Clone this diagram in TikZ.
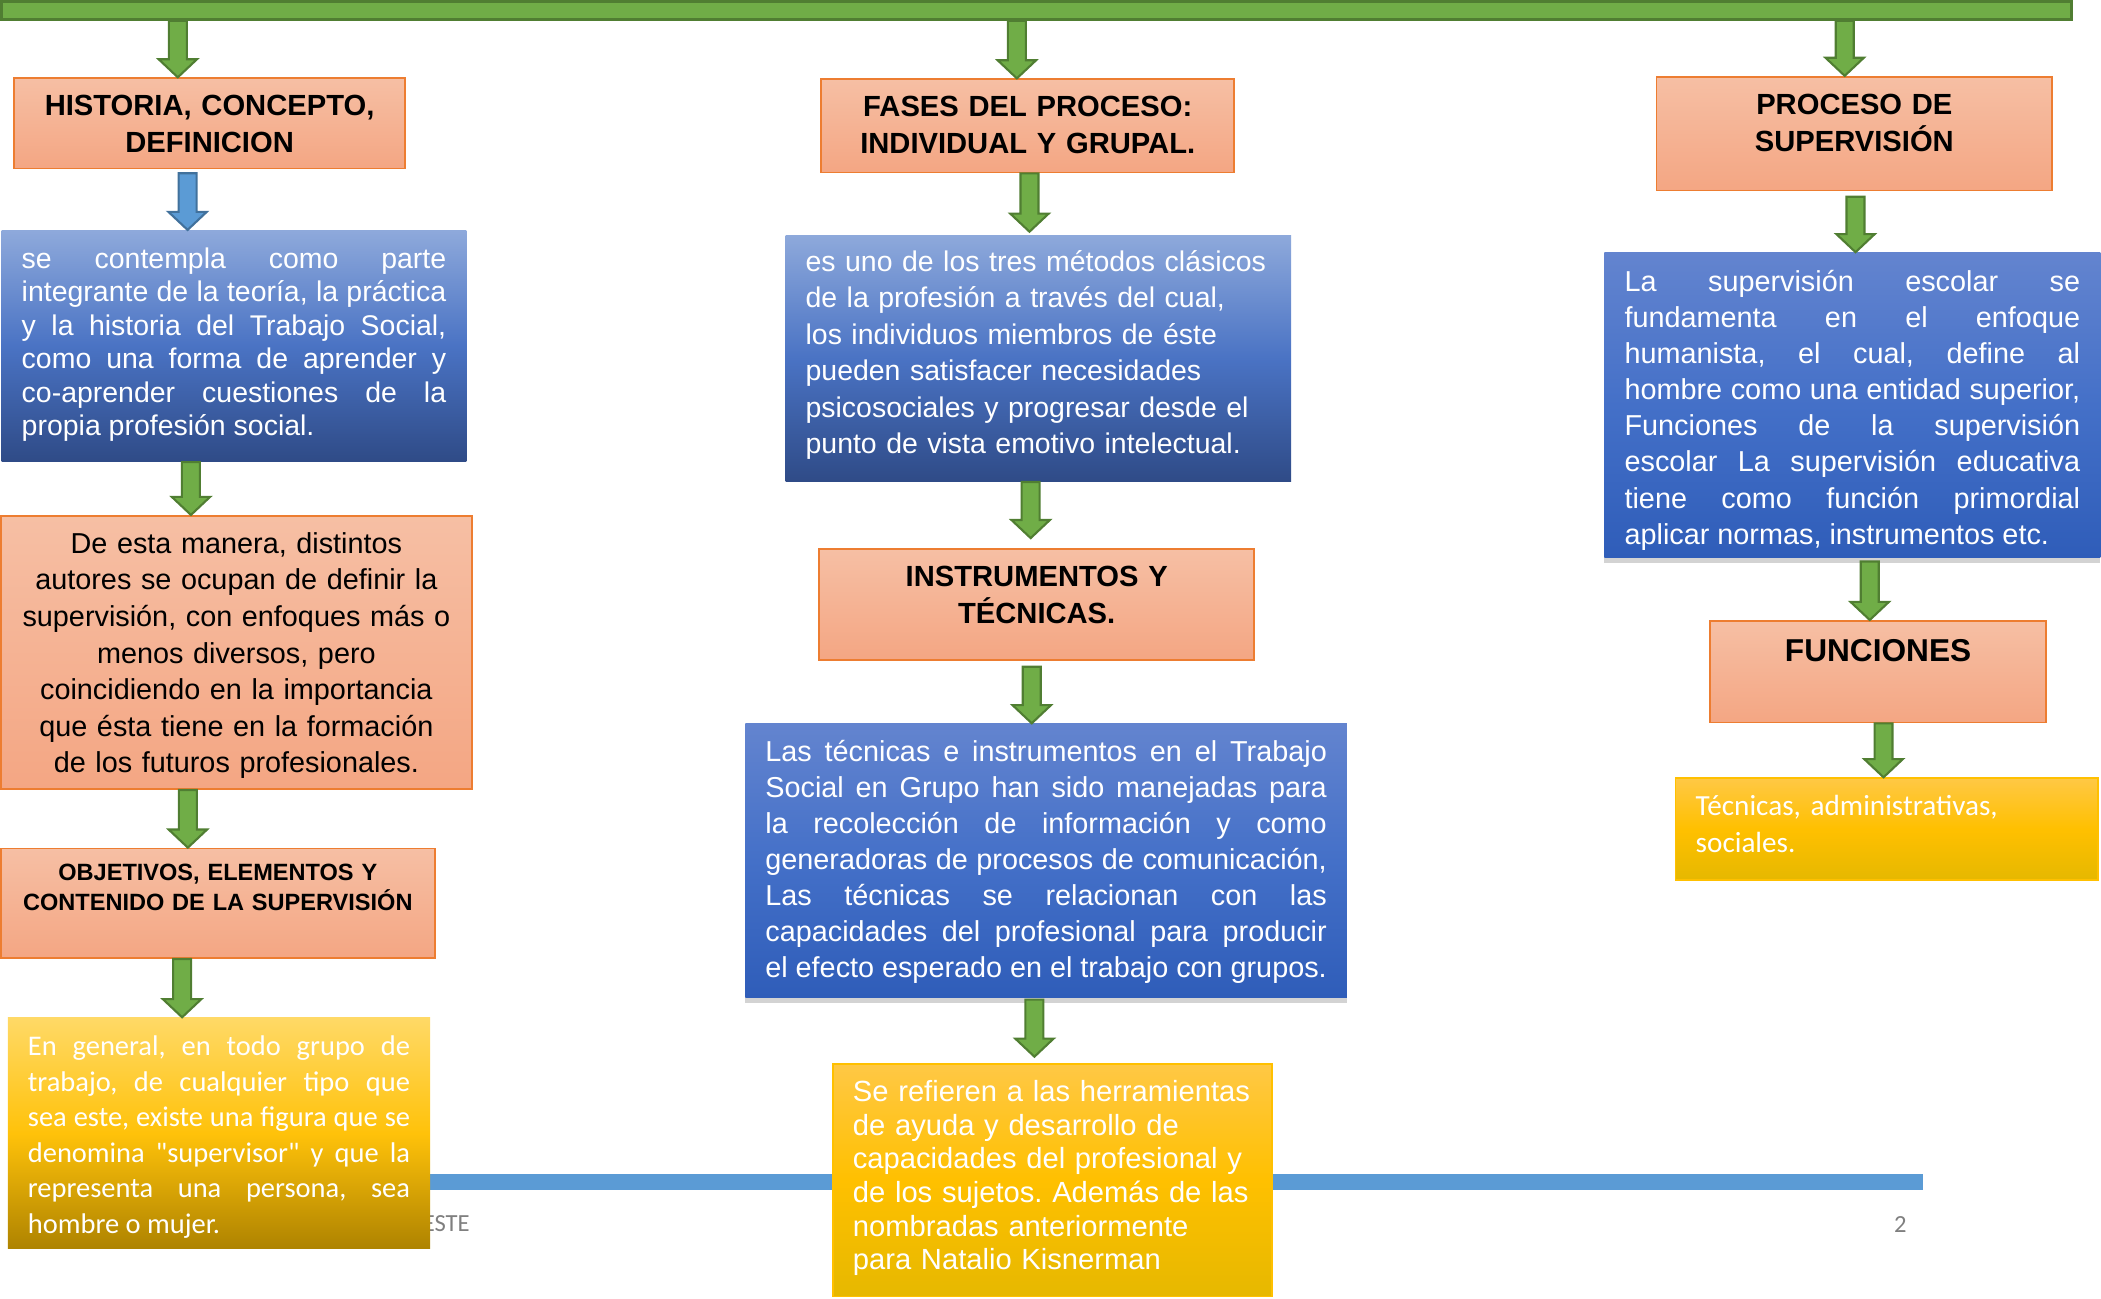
\documentclass[tikz,border=0pt]{standalone}
\usepackage{fontspec}
\setmainfont{Liberation Sans}
\newfontfamily\calibri{Carlito}
\usetikzlibrary{calc,shadows}

\definecolor{verde}{HTML}{70AD47}
\definecolor{verdeborde}{HTML}{507E32}
\definecolor{azulflecha}{HTML}{5B9BD5}
\definecolor{azulflechaborde}{HTML}{41719C}
\definecolor{azulpie}{HTML}{5B9BD5}
\definecolor{gris}{HTML}{7F7F7F}
\definecolor{naranja1}{HTML}{F6BFA4}
\definecolor{naranja2}{HTML}{F4A683}
\definecolor{naranjaborde}{HTML}{ED7D31}
\definecolor{azula}{HTML}{8EA9DB}
\definecolor{azulb}{HTML}{4A73C4}
\definecolor{azulc}{HTML}{2F4B87}
\definecolor{azulma}{HTML}{6384CF}
\definecolor{azulmb}{HTML}{4470C8}
\definecolor{azulmc}{HTML}{2F5DB9}
\definecolor{amara}{HTML}{FFD966}
\definecolor{amarb}{HTML}{FFC20A}
\definecolor{amarc}{HTML}{AE8300}
\definecolor{amarda}{HTML}{FFC845}
\definecolor{amardb}{HTML}{FFC000}
\definecolor{amardc}{HTML}{E6B800}

\newcommand{\ud}{0.134mm}
\newcommand{\anchoc}{0.9mm}
\newcommand{\anchop}{1.92mm}
\newcommand{\largop}{1.81mm}

\hyphenpenalty=10000
\exhyphenpenalty=10000
\tolerance=9999
\hbadness=10000
\frenchspacing

\tikzset{
  caja/.code n args={3}{%
    \pgfmathsetlengthmacro\cajaw{(#1-30)*\ud}%
    \pgfmathsetlengthmacro\cajah{#3*\ud}%
    \pgfmathsetlengthmacro\cajad{(#2-#3)*\ud}%
    \pgfmathsetlengthmacro\cajax{15*\ud}%
    \edef\cajatmp{\noexpand\tikzset{anchor=north west, inner ysep=0pt,
      inner xsep=\cajax, text width=\cajaw, text height=\cajah, text depth=\cajad}}%
    \cajatmp},
  naranja/.style={draw=naranjaborde, line width=0.5pt, top color=naranja1, bottom color=naranja2},
  titulo/.style={naranja, align=center, font=\bfseries\fontsize{8.3}{10.4}\selectfont},
  azulclaro/.style={top color=azula, bottom color=azulc, middle color=azulb, text=white},
  azulmedio/.style={top color=azulma, bottom color=azulmc, middle color=azulmb, text=white,
    drop shadow={opacity=0.35, shadow xshift=0pt, shadow yshift=-0.6mm}},
  amarillo/.style={top color=amara, bottom color=amarc, middle color=amarb, text=white},
  amarillodos/.style={draw=amardb, line width=0.4pt, top color=amarda, bottom color=amardc,
    middle color=amardb, text=white},
  barra/.style={anchor=north west, fill=verde, draw=verdeborde, line width=0.8pt,
    minimum width=207mm, minimum height=1.8mm, inner sep=0pt},
  pie/.style={text=gris, font=\calibri\fontsize{7}{8}\selectfont, inner sep=0pt},
  flechaverde/.style={fill=verde, draw=verdeborde, line width=0.6pt},
  flechaazul/.style={fill=azulflecha, draw=azulflechaborde, line width=0.6pt}
}

% flecha de bloque vertical: x, desde, hasta
\newcommand{\flecha}[4][verde]{%
  \draw[flecha#1] let \p1=(#2,0), \p2=(#3), \p3=(#4) in
    (\x1-\anchoc,\y2) -- (\x1+\anchoc,\y2) -- (\x1+\anchoc,\y3+\largop)
    -- (\x1+\anchop,\y3+\largop) -- (\x1,\y3) -- (\x1-\anchop,\y3+\largop)
    -- (\x1-\anchoc,\y3+\largop) -- cycle;}

\begin{document}
\begin{tikzpicture}[x=\ud, y=-\ud]
\useasboundingbox (0,0) rectangle (1568,969);

% pie de pagina
\fill[azulpie] (10,876.2) rectangle (1435.4,888);
\node[pie, anchor=base west] (este) at (315,919) {ESTE};
\node[pie, anchor=base east] (pag) at (1423.4,919.7) {2};

\node[barra] (barra) at (0,0) {};

% columna izquierda
\node[titulo, caja={291.5}{67.4}{28.1}] (hist) at (10,57.7)
  {HISTORIA, CONCEPTO,\\DEFINICION};
\node[azulclaro, align=justify, font=\fontsize{8.1}{9.53}\selectfont,
  caja={346.8}{172.2}{28.1}] (concepto) at (0.7,171.6)
  {se contempla como parte\linebreak integrante de la teoría, la práctica\linebreak
   y la historia del Trabajo Social,\linebreak como una forma de aprender y\linebreak
   co-aprender cuestiones de la\linebreak propia profesión social.};
\node[naranja, align=center, font=\fontsize{8.2}{10.39}\selectfont,
  caja={351.5}{204}{28.1}] (autores) at (0,384.3)
  {De esta manera, distintos\\autores se ocupan de definir la\\supervisión, con enfoques más o\\
   menos diversos, pero\\coincidiendo en la importancia\\que ésta tiene en la formación\\
   de los futuros profesionales.};
\node[titulo, font=\bfseries\fontsize{6.7}{8.7}\selectfont,
  caja={323.8}{81.8}{23.6}] (objetivos) at (0,632.6)
  {OBJETIVOS, ELEMENTOS Y\\CONTENIDO DE LA SUPERVISIÓN};
\node[amarillo, align=justify, font=\calibri\fontsize{8.1}{10.1}\selectfont,
  caja={315.2}{172.4}{28.1}] (grupo) at (5.3,759.2)
  {En general, en todo grupo de\linebreak trabajo, de cualquier tipo que\linebreak
   sea este, existe una figura que se\linebreak denomina "supervisor" y que la\linebreak
   representa una persona, sea\linebreak hombre o mujer.};

% columna central
\node[titulo, caja={308.1}{69.6}{28.1}] (fases) at (612.3,58.5)
  {FASES DEL PROCESO:\\INDIVIDUAL Y GRUPAL.};
\node[azulclaro, align=left, font=\fontsize{8.1}{10.37}\selectfont,
  caja={377.4}{183.8}{27.1}] (metodo) at (585.7,174.9)
  {es uno de los tres métodos clásicos\\de la profesión a través del cual,\\
   los individuos miembros de éste\\pueden satisfacer necesidades\\
   psicosociales y progresar desde el\\punto de vista emotivo intelectual.};
\node[titulo, caja={324.7}{82.6}{28.1}] (instr) at (610.7,409.2)
  {INSTRUMENTOS Y\\TÉCNICAS.};
\node[azulmedio, align=justify, font=\fontsize{8.2}{10.27}\selectfont,
  caja={449}{203.9}{27.8}] (tecnicas) at (555.7,539.8)
  {Las técnicas e instrumentos en el Trabajo\linebreak Social en Grupo han sido manejadas para\linebreak
   la recolección de información y como\linebreak generadoras de procesos de comunicación,\linebreak
   Las técnicas se relacionan con las\linebreak capacidades del profesional para producir\linebreak
   el efecto esperado en el trabajo con grupos.};
\node[amarillodos, align=left, font=\fontsize{8.3}{9.57}\selectfont,
  caja={327.9}{173.4}{28.1}] (herram) at (621,793.6)
  {Se refieren a las herramientas\\de ayuda y desarrollo de\\capacidades del profesional y\\
   de los sujetos. Además de las\\nombradas anteriormente\\para Natalio Kisnerman};

% columna derecha
\node[titulo, caja={295.3}{85}{28.4}] (proceso) at (1235.6,56.6)
  {PROCESO DE\\SUPERVISIÓN};
\node[azulmedio, align=justify, font=\fontsize{8.2}{10.29}\selectfont,
  caja={370}{227.2}{28.5}] (escolar) at (1196.9,188.2)
  {La supervisión escolar se\linebreak fundamenta en el enfoque\linebreak
   humanista, el cual, define al\linebreak hombre como una entidad superior,\linebreak
   Funciones de la supervisión\linebreak escolar La supervisión educativa\linebreak
   tiene como función primordial\linebreak aplicar normas, instrumentos etc.};
\node[titulo, font=\bfseries\fontsize{9}{11}\selectfont,
  caja={250.5}{75.8}{30.6}] (funciones) at (1275.7,462.7) {FUNCIONES};
\node[amarillodos, align=left, font=\calibri\fontsize{8.3}{10.44}\selectfont,
  caja={315.2}{76.1}{28.1}] (tipos) at (1250,580.1)
  {Técnicas, administrativas,\\sociales.};

% flechas
\flecha{132.7}{barra.south}{hist.north}
\flecha[azul]{140}{[yshift=-1.1pt]hist.south}{concepto.north}
\flecha{142.5}{concepto.south}{autores.north}
\flecha{140.2}{autores.south}{objetivos.north}
\flecha{135.9}{objetivos.south}{grupo.north}
\flecha{758.9}{barra.south}{fases.north}
\flecha{768.3}{fases.south}{[yshift=0.75pt]metodo.north}
\flecha{769.2}{metodo.south}{[yshift=2.9pt]instr.north}
\flecha{770}{[yshift=-1.7pt]instr.south}{tecnicas.north}
\flecha{772}{[yshift=-0.5pt]tecnicas.south}{[yshift=1.9pt]herram.north}
\flecha{1376.7}{barra.south}{proceso.north}
\flecha{1384.8}{[yshift=-1.5pt]proceso.south}{escolar.north}
\flecha{1395.4}{[yshift=-1pt]escolar.south}{funciones.north}
\flecha{1405.7}{funciones.south}{tipos.north}
\end{tikzpicture}
\end{document}
